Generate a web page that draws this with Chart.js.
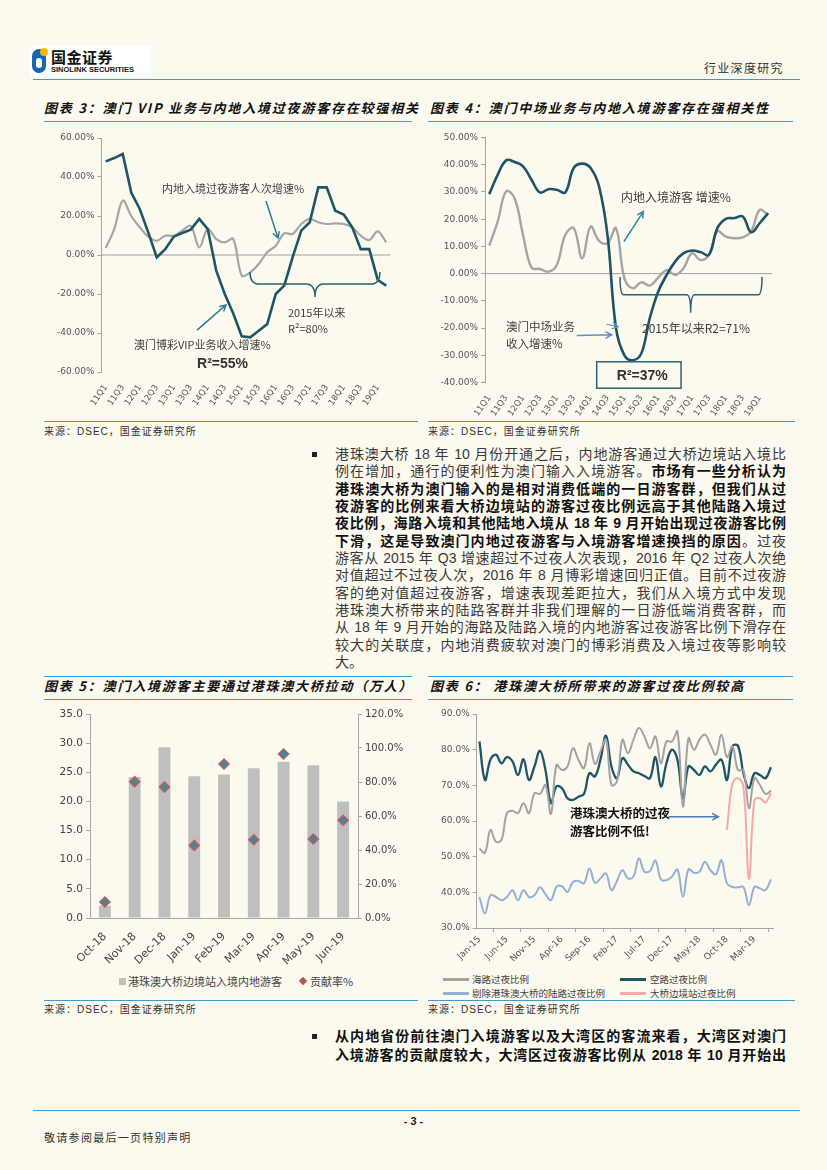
<!DOCTYPE html>
<html lang="zh-CN">
<head>
<meta charset="utf-8">
<title>澳门入境游客</title>
<script src="https://cdn.jsdelivr.net/npm/chart.js@4.4.1/dist/chart.umd.min.js"></script>
<style>
    html, body { margin: 0; padding: 0; }
    body {
        width: 827px; height: 1170px; position: relative; overflow: hidden;
        background: #fcf9ef; color: #333;
        font-family: "Liberation Sans", "Noto Sans CJK SC", sans-serif;
    }
    .abs { position: absolute; white-space: nowrap; }
    .rule { position: absolute; height: 0; border-top: 1.5px solid #3a9bd5; }
    .title {
        position: absolute; white-space: nowrap; font-size: 13px; line-height: 18px;
        font-weight: 700; font-style: italic; letter-spacing: 1.8px; color: #111;
        font-family: "Noto Sans CJK SC", sans-serif;
    }
    .src {
        position: absolute; white-space: nowrap; font-size: 10px; line-height: 12px;
        letter-spacing: 1px; color: #333; font-family: "Liberation Sans", "Noto Sans CJK SC", sans-serif;
    }
    .para { position: absolute; left: 335px; width: 451px; font-size: 14px; color: #3a3a3a; }
    .para div { height: 17.33px; line-height: 17.33px; text-align: justify; text-align-last: justify; }
    .para div.last { text-align-last: left; }
    .para b { color: #111; }
    .bullet { position: absolute; width: 5px; height: 5px; background: #222; }
    .chartbox { position: absolute; }
    .lg { position: absolute; white-space: nowrap; font-family: "Noto Sans CJK SC", sans-serif; color: #444; }
    .lgline { position: absolute; height: 2.5px; width: 26px; }
</style>
</head>
<body>

<!-- header -->
<div class="abs" style="left:30px;top:46px;width:121px;height:31px;background:#fff;"></div>
<div class="abs" style="left:32px;top:49px;width:14px;height:24px;background:#1b64b0;border-radius:8px 3px 8px 8px;"></div>
<div class="abs" style="left:36px;top:58px;width:6px;height:10px;background:#fff;border-radius:3px;"></div>
<div class="abs" style="left:40px;top:48px;width:8px;height:8px;background:#f2b705;border-radius:50%;"></div>
<div class="abs" style="left:51px;top:48px;font:700 15px 'Noto Sans CJK SC';letter-spacing:0.5px;color:#111;line-height:18px;">国金证券</div>
<div class="abs" style="left:51px;top:66px;font:700 7.5px 'Liberation Sans';color:#111;line-height:8px;">SINOLINK SECURITIES</div>
<div class="abs" style="left:704px;top:61px;font:12px 'Noto Sans CJK SC';letter-spacing:1.3px;color:#333;line-height:14px;">行业深度研究</div>
<div class="rule" style="left:33px;top:79px;width:767px;"></div>

<!-- titles row 1 -->
<div class="title" style="left:44px;top:99px;">图表 3：澳门 VIP 业务与内地入境过夜游客存在较强相关</div>
<div class="title" style="left:430px;top:99px;">图表 4：澳门中场业务与内地入境游客存在强相关性</div>
<div class="rule" style="left:44px;top:121px;width:368px;"></div>
<div class="rule" style="left:428px;top:121px;width:365px;"></div>

<div class="chartbox" style="left:44px;top:125px;"><canvas id="chart3" width="374" height="295"></canvas></div>
<div class="chartbox" style="left:428px;top:125px;"><canvas id="chart4" width="367" height="295"></canvas></div>

<div class="rule" style="left:44px;top:421px;width:374px;"></div>
<div class="rule" style="left:428px;top:421px;width:367px;"></div>
<div class="src" style="left:44px;top:426px;">来源：DSEC，国金证券研究所</div>
<div class="src" style="left:428px;top:426px;">来源：DSEC，国金证券研究所</div>

<!-- paragraph -->
<div class="bullet" style="left:312px;top:452px;"></div>
<div class="para" style="top:446px;">
    <div>港珠澳大桥 18 年 10 月份开通之后，内地游客通过大桥边境站入境比</div>
    <div>例在增加，通行的便利性为澳门输入入境游客。<b>市场有一些分析认为</b></div>
    <div><b>港珠澳大桥为澳门输入的是相对消费低端的一日游客群，但我们从过</b></div>
    <div><b>夜游客的比例来看大桥边境站的游客过夜比例远高于其他陆路入境过</b></div>
    <div><b>夜比例，海路入境和其他陆地入境从 18 年 9 月开始出现过夜游客比例</b></div>
    <div><b>下滑，这是导致澳门内地过夜游客与入境游客增速换挡的原因</b>。过夜</div>
    <div>游客从 2015 年 Q3 增速超过不过夜人次表现，2016 年 Q2 过夜人次绝</div>
    <div>对值超过不过夜人次，2016 年 8 月博彩增速回归正值。目前不过夜游</div>
    <div>客的绝对值超过夜游客，增速表现差距拉大，我们从入境方式中发现</div>
    <div>港珠澳大桥带来的陆路客群并非我们理解的一日游低端消费客群，而</div>
    <div>从 18 年 9 月开始的海路及陆路入境的内地游客过夜游客比例下滑存在</div>
    <div>较大的关联度，内地消费疲软对澳门的博彩消费及入境过夜等影响较</div>
    <div class="last">大。</div>
</div>

<!-- titles row 2 -->
<div class="rule" style="left:44px;top:676px;width:368px;"></div>
<div class="rule" style="left:428px;top:676px;width:365px;"></div>
<div class="title" style="left:44px;top:677px;">图表 5：澳门入境游客主要通过港珠澳大桥拉动（万人）</div>
<div class="title" style="left:430px;top:677px;">图表 6： 港珠澳大桥所带来的游客过夜比例较高</div>
<div class="rule" style="left:44px;top:699px;width:368px;"></div>
<div class="rule" style="left:428px;top:699px;width:365px;"></div>

<div class="chartbox" style="left:44px;top:702px;"><canvas id="chart5" width="374" height="270"></canvas></div>
<div class="chartbox" style="left:428px;top:702px;"><canvas id="chart6" width="367" height="270"></canvas></div>

<!-- chart 5 legend -->
<div class="abs" style="left:119px;top:978px;width:7px;height:7px;background:#bfbfbf;"></div>
<div class="lg" style="left:128px;top:974px;font-size:11px;line-height:15px;">港珠澳大桥边境站入境内地游客</div>
<div class="abs" style="left:300px;top:978px;width:6px;height:6px;background:#b85450;transform:rotate(45deg);"></div>
<div class="lg" style="left:310px;top:974px;font-size:11px;line-height:15px;">贡献率%</div>

<!-- chart 6 legend -->
<div class="lgline" style="left:443px;top:978px;background:#a3a3a3;"></div>
<div class="lg" style="left:472px;top:973px;font-size:9.5px;line-height:13px;">海路过夜比例</div>
<div class="lgline" style="left:620px;top:978px;background:#1c5667;"></div>
<div class="lg" style="left:650px;top:973px;font-size:9.5px;line-height:13px;">空路过夜比例</div>
<div class="lgline" style="left:443px;top:992px;background:#93b1d6;"></div>
<div class="lg" style="left:472px;top:987px;font-size:9.5px;line-height:13px;">剔除港珠澳大桥的陆路过夜比例</div>
<div class="lgline" style="left:620px;top:992px;background:#f4a9a8;"></div>
<div class="lg" style="left:650px;top:987px;font-size:9.5px;line-height:13px;">大桥边境站过夜比例</div>

<div class="rule" style="left:44px;top:1000px;width:374px;"></div>
<div class="rule" style="left:428px;top:1000px;width:367px;"></div>
<div class="src" style="left:44px;top:1004px;">来源：DSEC，国金证券研究所</div>
<div class="src" style="left:428px;top:1004px;">来源：DSEC，国金证券研究所</div>

<!-- second bullet -->
<div class="bullet" style="left:312px;top:1034px;"></div>
<div class="para" style="top:1027px;">
    <div style="height:19px;line-height:19px;"><b>从内地省份前往澳门入境游客以及大湾区的客流来看，大湾区对澳门</b></div>
    <div style="height:19px;line-height:19px;"><b>入境游客的贡献度较大，大湾区过夜游客比例从 2018 年 10 月开始出</b></div>
</div>

<!-- footer -->
<div class="rule" style="left:33px;top:1110px;width:767px;"></div>
<div class="abs" style="left:0;top:1114px;width:827px;text-align:center;font:700 11px 'Liberation Sans';line-height:14px;color:#222;">- 3 -</div>
<div class="abs" style="left:44px;top:1130px;font:11px 'Noto Sans CJK SC';letter-spacing:1.3px;line-height:14px;color:#333;">敬请参阅最后一页特别声明</div>

<script>
// ---- data: chart 3 / chart 4 (quarterly growth, %) ----
const quarters = [
    "11Q1", "11Q2", "11Q3", "11Q4", "12Q1", "12Q2", "12Q3", "12Q4",
    "13Q1", "13Q2", "13Q3", "13Q4", "14Q1", "14Q2", "14Q3", "14Q4",
    "15Q1", "15Q2", "15Q3", "15Q4", "16Q1", "16Q2", "16Q3", "16Q4",
    "17Q1", "17Q2", "17Q3", "17Q4", "18Q1", "18Q2", "18Q3", "18Q4",
    "19Q1", "19Q2",
];
const vipGrowth = [
    48, 49.7, 51.8, 32, 23.6, 11.6, -1.2, 3,
    9.4, 11.3, 13, 18.5, 13.3, -8, -20, -30,
    -41.7, -42.2, -38.8, -35.4, -20, -15.7, -1, 12.5,
    16.8, 34.7, 34.7, 22.7, 20.7, 14.2, 3, 3,
    -12.8, -15.7,
];
const overnightGrowth = [
    3.6, 13.3, 27.9, 20, 14.2, 9.4, 7.3, 9.9,
    9.9, 12.5, 15, 3.9, 13.3, 8.2, 6.5, 8.2,
    -10.6, -8.9, -4.6, 1.4, 4.8, 11.1, 10.8, 15.9,
    18.5, 16.8, 15.9, 16.2, 15.9, 14.2, 9.9, 7.7,
    12.1, 6.5,
];
const massGrowth = [
    29.2, 36.3, 41.6, 41, 39.4, 34.5, 29.8, 31,
    30.8, 29.8, 38.8, 40.4, 38.8, 32, 14, -20,
    -30, -31.8, -29.3, -16.4, -6.6, -0.5, 4.4, 7.5,
    8.5, 7.9, 6.9, 16.7, 20.1, 20.4, 21, 15.2,
    18.5, 22.2,
];
const mainlandGrowth = [
    10.3, 19.1, 30.2, 27.7, 14.2, 2.2, 1.7, 0.7,
    3.2, 14.2, 16.7, 5.6, 17.3, 12, 11.2, 16.7,
    -1.7, -5.4, -3.2, -4.4, -1.5, 1.3, -0.5, 2,
    7.5, 5, 6.9, 15.5, 13.6, 13, 13.3, 15.5,
    23.4, 21.6,
];

// ---- data: chart 5 ----
const months5 = ["Oct-18", "Nov-18", "Dec-18", "Jan-19", "Feb-19", "Mar-19", "Apr-19", "May-19", "Jun-19"];
const bridgeVisitors = [2.1, 24.2, 29.3, 24.3, 24.6, 25.7, 26.8, 26.2, 20.0];
const contribution = [9.4, 80.2, 77.0, 42.7, 90.6, 46.0, 96.5, 46.5, 57.5];

// ---- data: chart 6 (monthly overnight share, %) ----
const months6 = [
    "Jan-15", "Feb-15", "Mar-15", "Apr-15", "May-15", "Jun-15", "Jul-15", "Aug-15", "Sep-15", "Oct-15", "Nov-15", "Dec-15",
    "Jan-16", "Feb-16", "Mar-16", "Apr-16", "May-16", "Jun-16", "Jul-16", "Aug-16", "Sep-16", "Oct-16", "Nov-16", "Dec-16",
    "Jan-17", "Feb-17", "Mar-17", "Apr-17", "May-17", "Jun-17", "Jul-17", "Aug-17", "Sep-17", "Oct-17", "Nov-17", "Dec-17",
    "Jan-18", "Feb-18", "Mar-18", "Apr-18", "May-18", "Jun-18", "Jul-18", "Aug-18", "Sep-18", "Oct-18", "Nov-18", "Dec-18",
    "Jan-19", "Feb-19", "Mar-19", "Apr-19", "May-19", "Jun-19",
];
const seaOvernight = [
    52.3, 51.1, 57.5, 54.2, 54.7, 62.2, 62.9, 62.2, 65, 62.2,
    67.8, 67.6, 70.1, 62, 75.7, 74.3, 75.3, 80.4, 77.2, 74.8,
    81.8, 76, 79.5, 82.8, 70.1, 71.1, 82.8, 79, 82.8, 86.1,
    83.7, 80.4, 83.7, 76.2, 82.3, 82.3, 85.1, 64, 83.2, 80,
    82.8, 84.2, 81.4, 78.6, 84.2, 77.9, 80.9, 74.3, 74.3, 63.6,
    72, 70.1, 67.6, 68.5,
];
const airOvernight = [
    82.3, 71.5, 77.2, 78.6, 76.2, 77.9, 76.7, 72.9, 77.3, 71.5,
    75.3, 79.7, 74.3, 65, 69.7, 69.2, 66.4, 65.9, 66.8, 67.6,
    73.4, 72.5, 77.2, 83.9, 75.3, 72, 77.6, 75.8, 73.9, 73.4,
    72.6, 72, 77.9, 69.7, 76.2, 80, 77.2, 66.4, 75.3, 74.3,
    72.9, 75.3, 73.9, 75.8, 77.2, 71.5, 80.9, 81.1, 73.4, 69.2,
    73.4, 72.9, 72, 75.1,
];
const landExBridge = [
    38.7, 34.1, 39.2, 38.7, 37.8, 38.7, 40.6, 37.8, 40.6, 38.7,
    39.2, 41.4, 39.5, 37.8, 41.5, 41.7, 40.1, 42.9, 43.2, 42.5,
    46.7, 42.7, 43.9, 45.3, 40.6, 43.2, 46.2, 43.9, 44.4, 49.5,
    45.8, 46, 48.9, 43.6, 43.4, 44.4, 46.4, 38.7, 46.4, 45.5,
    45.8, 48.6, 46.2, 45.1, 49, 42.5, 41.5, 41.4, 41.5, 36.4,
    41.5, 41.1, 40.6, 43.6,
];
const bridgeOvernight = [
    null, null, null, null, null, null, null, null, null, null,
    null, null, null, null, null, null, null, null, null, null,
    null, null, null, null, null, null, null, null, null, null,
    null, null, null, null, null, null, null, null, null, null,
    null, null, null, null, null, 57.5, 70.5, 72, 69.6, 43.8,
    65.8, 66.4, 65.2, 67.8,
];

Chart.defaults.font.family = '"DejaVu Sans", sans-serif';
Chart.defaults.color = "#555";

const CJK = '"Noto Sans CJK SC", sans-serif';
const AXIS = "#a6a6a6";

function drawArrow(ctx, x1, y1, x2, y2) {
    const a = Math.atan2(y2 - y1, x2 - x1);
    const h = 7;
    ctx.beginPath();
    ctx.moveTo(x1, y1);
    ctx.lineTo(x2, y2);
    ctx.moveTo(x2 - h * Math.cos(a - 0.5), y2 - h * Math.sin(a - 0.5));
    ctx.lineTo(x2, y2);
    ctx.lineTo(x2 - h * Math.cos(a + 0.5), y2 - h * Math.sin(a + 0.5));
    ctx.stroke();
}

function drawBrace(ctx, x1, xm, x2, top, mid, tip, r) {
    ctx.beginPath();
    ctx.moveTo(x1, top);
    ctx.quadraticCurveTo(x1, mid, x1 + r, mid);
    ctx.lineTo(xm - r, mid);
    ctx.quadraticCurveTo(xm, mid, xm, tip);
    ctx.quadraticCurveTo(xm, mid, xm + r, mid);
    ctx.lineTo(x2 - r, mid);
    ctx.quadraticCurveTo(x2, mid, x2, top);
    ctx.stroke();
}

// notes are placed in data space (category index, value)
const notesPlugin = {
    id: "notes",
    afterDatasetsDraw(chart, args, opts) {
        const items = opts.items || [];
        const ctx = chart.ctx;
        const X = (v) => chart.scales.x.getPixelForValue(v);
        const Y = (v) => chart.scales.y.getPixelForValue(v);
        ctx.save();
        items.forEach((it) => {
            ctx.strokeStyle = it.color || "#333";
            ctx.fillStyle = it.color || "#333";
            ctx.lineWidth = it.width || 1.5;
            if (it.type === "text") {
                ctx.font = it.font;
                ctx.textAlign = "left";
                ctx.textBaseline = "middle";
                ctx.fillText(it.text, X(it.x), Y(it.y));
            } else if (it.type === "arrow") {
                drawArrow(ctx, X(it.x1), Y(it.y1), X(it.x2), Y(it.y2));
            } else if (it.type === "brace") {
                drawBrace(ctx, X(it.x1), X(it.xm), X(it.x2), Y(it.top), Y(it.mid), Y(it.tip), it.r || 8);
            } else if (it.type === "box") {
                const x1 = X(it.x1), x2 = X(it.x2), y1 = Y(it.y1), y2 = Y(it.y2);
                ctx.strokeRect(x1, y1, x2 - x1, y2 - y1);
            }
        });
        ctx.restore();
    },
};

const zeroLinePlugin = {
    id: "zeroLine",
    beforeDatasetsDraw(chart, args, opts) {
        if (!opts.show) return;
        const { ctx, chartArea } = chart;
        const y = chart.scales.y.getPixelForValue(0);
        ctx.save();
        ctx.strokeStyle = opts.color || AXIS;
        ctx.lineWidth = 1;
        ctx.beginPath();
        ctx.moveTo(chartArea.left, y);
        ctx.lineTo(chartArea.right, y);
        ctx.stroke();
        ctx.restore();
    },
};

function quarterAxis(height) {
    return {
        offset: true,
        grid: { display: false },
        border: { display: false },
        ticks: {
            autoSkip: false, minRotation: 55, maxRotation: 55, padding: 3,
            font: { size: 8.5 }, color: "#555",
            callback: (v, i) => (i % 2 === 0 ? quarters[i] : null),
        },
        afterFit: (s) => { s.height = height; },
    };
}

function valueAxis(min, max, step, digits, width, suffix) {
    return {
        min: min, max: max,
        ticks: {
            stepSize: step, font: { size: 9 }, color: "#555", padding: 3,
            callback: (v) => v.toFixed(digits) + suffix,
        },
        grid: { drawOnChartArea: false, tickLength: 4, color: AXIS },
        border: { color: AXIS },
        afterFit: (s) => { s.width = width; },
    };
}

// ---- chart 3 ----
new Chart(document.getElementById("chart3"), {
    type: "line",
    data: {
        labels: quarters,
        datasets: [
            { label: "澳门博彩VIP业务收入增速%", data: vipGrowth, borderColor: "#1f5566", borderWidth: 2.6, pointRadius: 0, tension: 0 },
            { label: "内地入境过夜游客人次增速%", data: overnightGrowth, borderColor: "#a5a5a5", borderWidth: 2.2, pointRadius: 0, tension: 0.35 },
        ],
    },
    options: {
        responsive: false, animation: false,
        layout: { padding: { top: 13, right: 27.5, left: 0, bottom: 0 } },
        scales: { x: quarterAxis(48), y: valueAxis(-60, 60, 20, 2, 57.5, "%") },
        plugins: {
            legend: { display: false }, tooltip: { enabled: false },
            zeroLine: { show: true, color: "#a0a0a0" },
            notes: {
                items: [
                    { type: "text", text: "内地入境过夜游客人次增速%", x: 6.62, y: 33.8, font: "11px " + CJK, color: "#404040" },
                    { type: "arrow", x1: 18.85, y1: 27.7, x2: 20.26, y2: 8.7, color: "#2e7f95" },
                    { type: "brace", x1: 16.97, xm: 24.62, x2: 32.26, top: -8.7, mid: -14.9, tip: -21.5, r: 9, color: "#2a6272" },
                    { type: "text", text: "2015年以来", x: 21.44, y: -29.7, font: "11px " + CJK, color: "#404040" },
                    { type: "text", text: "R²=80%", x: 21.44, y: -37.9, font: "11px " + CJK, color: "#404040" },
                    { type: "arrow", x1: 10.74, y1: -38.5, x2: 14.15, y2: -25.6, color: "#2e7f95" },
                    { type: "text", text: "澳门博彩VIP业务收入增速%", x: 3.32, y: -46.2, font: "11px " + CJK, color: "#404040" },
                    { type: "text", text: "R²=55%", x: 10.74, y: -55.9, font: 'bold 14px "Liberation Sans", sans-serif', color: "#333" },
                ],
            },
        },
    },
    plugins: [zeroLinePlugin, notesPlugin],
});

// ---- chart 4 ----
new Chart(document.getElementById("chart4"), {
    type: "line",
    data: {
        labels: quarters,
        datasets: [
            { label: "澳门中场业务收入增速%", data: massGrowth, borderColor: "#1e5466", borderWidth: 2.6, pointRadius: 0, tension: 0.4 },
            { label: "内地入境游客增速%", data: mainlandGrowth, borderColor: "#a5a5a5", borderWidth: 2.4, pointRadius: 0, tension: 0.4 },
        ],
    },
    options: {
        responsive: false, animation: false,
        layout: { padding: { top: 12.5, right: 22.7, left: 0, bottom: 0 } },
        scales: { x: quarterAxis(37.5), y: valueAxis(-40, 50, 10, 2, 57, "%") },
        plugins: {
            legend: { display: false }, tooltip: { enabled: false },
            zeroLine: { show: true, color: "#a0a0a0" },
            notes: {
                items: [
                    { type: "text", text: "内地入境游客 增速%", x: 15.6, y: 27.8, font: "12px " + CJK, color: "#404040" },
                    { type: "arrow", x1: 15.95, y1: 11.8, x2: 18.23, y2: 22.8, color: "#2e8ba0" },
                    { type: "brace", x1: 15.48, xm: 23.84, x2: 32.28, top: -1.2, mid: -7.8, tip: -14.4, r: 4, color: "#2a6272" },
                    { type: "text", text: "2015年以来R2=71%", x: 18.08, y: -20, font: "12px " + CJK, color: "#404040" },
                    { type: "text", text: "澳门中场业务", x: 1.99, y: -19.6, font: "11.5px " + CJK, color: "#404040" },
                    { type: "text", text: "收入增速%", x: 1.99, y: -25.8, font: "11.5px " + CJK, color: "#404040" },
                    { type: "arrow", x1: 10.35, y1: -22.7, x2: 14.49, y2: -22.5, color: "#5b8fc7" },
                    { type: "arrow", x1: 13.9, y1: -18.6, x2: 15.27, y2: -19.5, color: "#5b8fc7", width: 1.2 },
                    { type: "box", x1: 12.72, y1: -32.4, x2: 22.7, y2: -42.1, color: "#2a6475", width: 1.5 },
                    { type: "text", text: "R²=37%", x: 15.1, y: -37.6, font: 'bold 14px "Liberation Sans", sans-serif', color: "#333" },
                ],
            },
        },
    },
    plugins: [zeroLinePlugin, notesPlugin],
});

// ---- chart 5 ----
new Chart(document.getElementById("chart5"), {
    type: "bar",
    data: {
        labels: months5,
        datasets: [
            {
                type: "line", label: "贡献率%", data: contribution, yAxisID: "y2", showLine: false,
                pointStyle: "rectRot", pointRadius: 5, pointBackgroundColor: "#3e8a9b",
                pointBorderColor: "#c25a5a", pointBorderWidth: 1.5, order: 0,
            },
            {
                label: "港珠澳大桥边境站入境内地游客", data: bridgeVisitors, yAxisID: "y",
                backgroundColor: "#bfbfbf", barPercentage: 0.4, categoryPercentage: 1, order: 1,
            },
        ],
    },
    options: {
        responsive: false, animation: false,
        layout: { padding: { top: 12, right: 0, left: 0, bottom: 0 } },
        scales: {
            x: {
                grid: { display: false },
                border: { display: true, color: AXIS },
                ticks: { autoSkip: false, minRotation: 45, maxRotation: 45, padding: 4, font: { size: 11 }, color: "#444" },
                afterFit: (s) => { s.height = 54; },
            },
            y: {
                position: "left", min: 0, max: 35,
                ticks: { stepSize: 5, font: { size: 10.5 }, color: "#444", padding: 3, callback: (v) => v.toFixed(1) },
                grid: { drawOnChartArea: false, tickLength: 4, color: AXIS },
                border: { color: AXIS },
                afterFit: (s) => { s.width = 46; },
            },
            y2: {
                position: "right", min: 0, max: 120,
                ticks: { stepSize: 20, font: { size: 10 }, color: "#444", padding: 3, callback: (v) => v.toFixed(1) + "%" },
                grid: { drawOnChartArea: false, tickLength: 4, color: AXIS },
                border: { color: AXIS },
                afterFit: (s) => { s.width = 60; },
            },
        },
        plugins: { legend: { display: false }, tooltip: { enabled: false } },
    },
});

// ---- chart 6 ----
new Chart(document.getElementById("chart6"), {
    type: "line",
    data: {
        labels: months6,
        datasets: [
            { label: "海路过夜比例", data: seaOvernight, borderColor: "#a3a3a3", borderWidth: 2, pointRadius: 0, tension: 0.4 },
            { label: "空路过夜比例", data: airOvernight, borderColor: "#1c5667", borderWidth: 2.3, pointRadius: 0, tension: 0.4 },
            { label: "剔除港珠澳大桥的陆路过夜比例", data: landExBridge, borderColor: "#93b1d6", borderWidth: 2, pointRadius: 0, tension: 0.4 },
            { label: "大桥边境站过夜比例", data: bridgeOvernight, borderColor: "#f4a9a8", borderWidth: 2, pointRadius: 0, tension: 0.4 },
        ],
    },
    options: {
        responsive: false, animation: false,
        layout: { padding: { top: 12, right: 21.3, left: 0, bottom: 0 } },
        scales: {
            x: {
                offset: true,
                grid: { display: true, offset: true, drawOnChartArea: false, tickLength: 4, color: AXIS },
                border: { display: true, color: AXIS },
                ticks: {
                    autoSkip: false, minRotation: 45, maxRotation: 45, padding: 2,
                    font: { size: 9 }, color: "#555",
                    callback: (v, i) => (i % 5 === 0 ? months6[i] : null),
                },
                afterFit: (s) => { s.height = 44; },
            },
            y: valueAxis(30, 90, 10, 1, 48.7, "%"),
        },
        plugins: {
            legend: { display: false }, tooltip: { enabled: false },
            notes: {
                items: [
                    { type: "text", text: "港珠澳大桥的过夜", x: 16.46, y: 62.3, font: "bold 12.5px " + CJK, color: "#111" },
                    { type: "text", text: "游客比例不低!", x: 16.46, y: 57.0, font: "bold 12.5px " + CJK, color: "#111" },
                    { type: "arrow", x1: 34.34, y1: 61.2, x2: 43.43, y2: 61.2, color: "#4a7ebb" },
                ],
            },
        },
    },
    plugins: [notesPlugin],
});
</script>
</body>
</html>
